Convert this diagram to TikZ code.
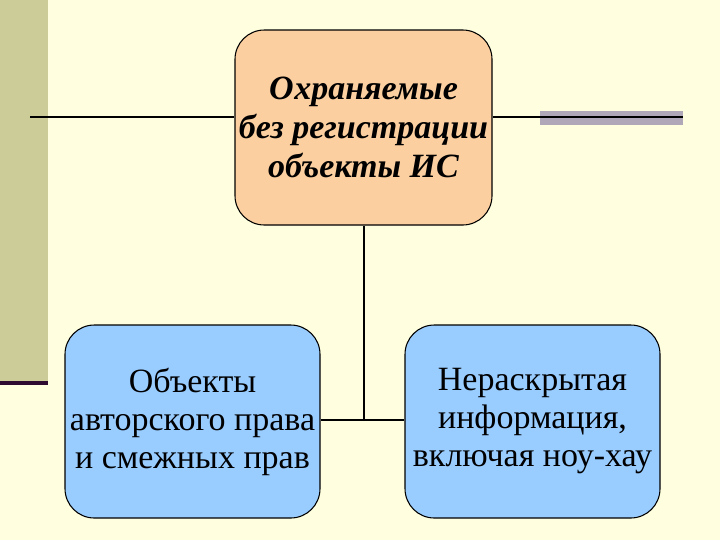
\documentclass[tikz,border=0pt]{standalone}
\usepackage{fontspec}
\setmainfont{Liberation Serif}
\begin{document}
\begin{tikzpicture}[x=0.75pt,y=-0.75pt,
  box/.style={draw=black,thick,rounded corners=22pt,align=center,inner sep=0pt,font=\fontsize{25.5}{28.5}\selectfont},
  wire/.style={draw=black,line width=1.5pt}]
\definecolor{bg}{HTML}{FFFFE0}
\definecolor{olive}{HTML}{CCCC99}
\definecolor{peach}{HTML}{FCCFA0}
\definecolor{lblue}{HTML}{99CCFF}
\definecolor{gbar}{HTML}{B0A8B8}
\definecolor{dpurp}{HTML}{2E0A30}
\fill[bg] (0,0) rectangle (720,540);
\useasboundingbox (0,0) rectangle (720,540);
\fill[olive] (0,0) rectangle (48,381);
\fill[dpurp] (0,381) rectangle (48,385);
\fill[gbar] (540,111) rectangle (683,125);
\node[box,fill=peach,minimum width=257*0.75pt,minimum height=195*0.75pt,font=\fontsize{25.5}{29.5}\selectfont\bfseries\itshape] (top) at (363.5,127.5) {Охраняемые\\без регистрации\\объекты ИС};
\node[box,fill=lblue,minimum width=255*0.75pt,minimum height=193*0.75pt] (l) at (192.5,421.5) {Объекты\\авторского права\\и смежных прав};
\node[box,fill=lblue,minimum width=255*0.75pt,minimum height=193*0.75pt] (r) at (532.5,421.5) {Нераскрытая\\информация,\\включая ноу-хау};
\coordinate (la) at (30,117);
\coordinate (ra) at (683,117);
\coordinate (j) at (363.5,420);
\draw[wire] (la) -- (top.west |- la);
\draw[wire] (top.east |- ra) -- (ra);
\draw[wire] (top.south) -- (j);
\draw[wire] (l.east |- j) -- (r.west |- j);
\end{tikzpicture}
\end{document}
